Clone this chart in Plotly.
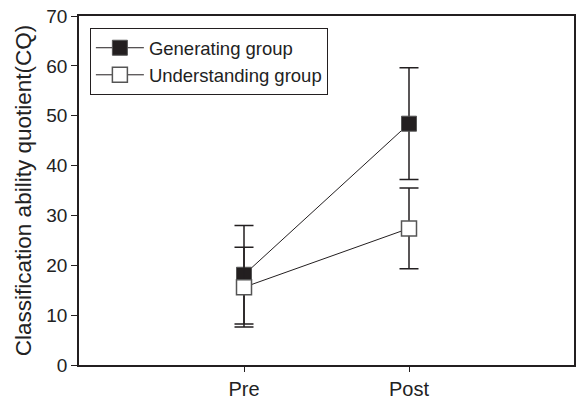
import plotly.graph_objects as go

phases = ["Pre", "Post"]
phase_pos = [1, 2]
gen_mean = [18.1, 48.4]
gen_err = [9.9, 11.2]
und_mean = [15.6, 27.4]
und_err = [8.0, 8.1]
y_ticks = [0, 10, 20, 30, 40, 50, 60, 70]

FONT = "Liberation Sans, Arial, Helvetica, sans-serif"
INK = "#231f20"

fig = go.Figure()
fig.add_trace(go.Scatter(
    x=phase_pos, y=gen_mean, name="Generating group", mode="lines+markers",
    line=dict(color=INK, width=1),
    marker=dict(symbol="square", size=15, color=INK, line=dict(color="#555", width=1)),
    error_y=dict(type="data", array=gen_err, visible=True, color=INK, thickness=1.5, width=9.5),
))
fig.add_trace(go.Scatter(
    x=phase_pos, y=und_mean, name="Understanding group", mode="lines+markers",
    line=dict(color=INK, width=1),
    marker=dict(symbol="square", size=15, color="white", line=dict(color="#555", width=1.5)),
    error_y=dict(type="data", array=und_err, visible=True, color=INK, thickness=1.5, width=9.5),
))

fig.update_layout(
    width=577, height=401,
    margin=dict(l=79, r=3, t=16, b=36),
    paper_bgcolor="white", plot_bgcolor="white",
    font=dict(family=FONT, color="#222", size=19),
    showlegend=True,
    legend=dict(
        x=0.022, y=0.965, xanchor="left", yanchor="top",
        bordercolor=INK, borderwidth=1, bgcolor="white",
        font=dict(size=18.5, color="#222"),
        itemwidth=48, tracegroupgap=0,
    ),
    xaxis=dict(
        range=[0, 3], tickvals=phase_pos, ticktext=phases, automargin=False,
        ticklabeloverflow="allow",
        showgrid=False, zeroline=False, showline=True, linecolor=INK, linewidth=1.5,
        mirror=True, ticks="outside", ticklen=5, tickcolor=INK,
        tickfont=dict(size=20),
    ),
    yaxis=dict(
        range=[0, 70], tickvals=y_ticks, automargin=False,
        ticklabeloverflow="allow",
        showgrid=False, zeroline=False, showline=True, linecolor=INK, linewidth=1.5,
        mirror=True, ticks="outside", ticklen=6, tickcolor=INK,
        tickfont=dict(size=19),
        title=dict(text="Classification ability quotient(CQ)", font=dict(size=22.5), standoff=8),
    ),
)

fig.write_html(
    "out.html",
    config={"displayModeBar": False},
    post_script="document.body.style.margin='0';document.body.style.overflow='hidden';",
)
